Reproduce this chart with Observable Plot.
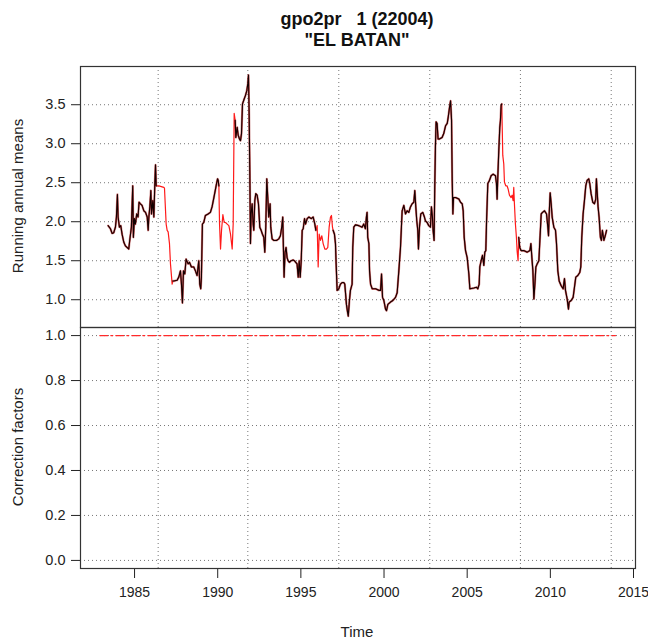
<!DOCTYPE html>
<html>
<head>
<meta charset="utf-8">
<script src="https://cdn.jsdelivr.net/npm/d3@7"></script>
<script src="https://cdn.jsdelivr.net/npm/@observablehq/plot@0.6"></script>
<style>
  html, body { margin: 0; padding: 0; background: #fff; }
  #chart { position: relative; width: 648px; height: 638px; font-family: "Liberation Sans", Arial, sans-serif; color: #222; }
  .abs { position: absolute; white-space: nowrap; }
  .title { font-weight: bold; font-size: 18px; line-height: 18px; color: #111; transform: translateX(-50%); }
  .ylab { font-size: 15px; line-height: 15px; transform: translate(-50%, -50%) rotate(-90deg); }
  .xlab { font-size: 15px; line-height: 15px; transform: translate(-50%, -50%); }
  svg { position: absolute; left: 0; overflow: visible; }
</style>
</head>
<body>
<div id="chart">
  <div class="abs title" style="left:357px; top:10px;">gpo2pr &nbsp;&nbsp;1 (22004)</div>
  <div class="abs title" style="left:357px; top:31px;">"EL BATAN"</div>
  <div class="abs ylab" style="left:17px; top:196px;">Running annual means</div>
  <div class="abs ylab" style="left:17px; top:447px;">Correction factors</div>
  <div class="abs xlab" style="left:357px; top:631px;">Time</div>
</div>
<script>
const years = [
1983.41,1983.55,1983.65,1983.75,1983.85,1983.91,1983.97,1984.01,1984.09,1984.17,
1984.25,1984.35,1984.45,1984.55,1984.65,1984.71,1984.81,1984.89,1984.93,1984.99,
1985.05,1985.13,1985.21,1985.27,1985.35,1985.45,1985.56,1985.66,1985.76,1985.82,
1985.86,1985.92,1985.98,1986.02,1986.10,1986.16,1986.22,1986.26,1986.30,1986.46,
1986.76,1986.80,1986.90,1986.96,1987.02,1987.10,1987.16,1987.26,1987.30,1987.36,
1987.56,1987.66,1987.76,1987.82,1987.88,1987.94,1988.02,1988.10,1988.22,1988.30,
1988.42,1988.56,1988.66,1988.76,1988.86,1988.92,1988.98,1989.02,1989.08,1989.16,
1989.26,1989.42,1989.56,1989.66,1989.77,1989.87,1989.93,1989.99,1990.03,1990.07,
1990.11,1990.17,1990.23,1990.31,1990.39,1990.47,1990.57,1990.67,1990.77,1990.87,
1990.93,1990.99,1991.05,1991.09,1991.17,1991.23,1991.31,1991.37,1991.43,1991.49,
1991.57,1991.67,1991.75,1991.81,1991.85,1991.89,1991.93,1991.97,1992.01,1992.07,
1992.13,1992.17,1992.23,1992.29,1992.37,1992.45,1992.53,1992.61,1992.69,1992.77,
1992.83,1992.89,1992.95,1993.01,1993.07,1993.15,1993.19,1993.27,1993.37,1993.53,
1993.67,1993.77,1993.85,1993.91,1993.95,1993.99,1994.05,1994.11,1994.17,1994.23,
1994.31,1994.41,1994.53,1994.61,1994.69,1994.77,1994.84,1994.90,1994.96,1995.02,
1995.08,1995.14,1995.22,1995.28,1995.38,1995.48,1995.62,1995.74,1995.84,1995.90,
1995.98,1996.04,1996.10,1996.18,1996.26,1996.34,1996.44,1996.54,1996.62,1996.70,
1996.78,1996.84,1996.90,1996.94,1997.02,1997.08,1997.12,1997.18,1997.28,1997.38,
1997.48,1997.58,1997.64,1997.68,1997.74,1997.80,1997.85,1997.92,1997.98,1998.08,
1998.12,1998.18,1998.28,1998.48,1998.68,1998.78,1998.88,1998.94,1998.98,1999.02,
1999.09,1999.13,1999.19,1999.29,1999.49,1999.69,1999.79,1999.85,1999.91,1999.99,
2000.09,2000.15,2000.23,2000.39,2000.53,2000.69,2000.79,2000.89,2000.99,2001.09,
2001.19,2001.29,2001.39,2001.49,2001.59,2001.69,2001.79,2001.85,2001.91,2001.97,
2002.03,2002.07,2002.13,2002.21,2002.33,2002.43,2002.49,2002.59,2002.69,2002.79,
2002.85,2002.91,2002.95,2003.01,2003.05,2003.09,2003.13,2003.19,2003.25,2003.33,
2003.49,2003.59,2003.70,2003.80,2003.86,2003.94,2004.00,2004.06,2004.10,2004.14,
2004.18,2004.30,2004.50,2004.60,2004.70,2004.76,2004.82,2004.90,2005.00,2005.10,
2005.16,2005.40,2005.56,2005.64,2005.72,2005.76,2005.84,2005.92,2006.00,2006.06,
2006.12,2006.16,2006.20,2006.24,2006.34,2006.44,2006.56,2006.70,2006.76,2006.80,
2006.84,2006.90,2006.96,2007.00,2007.04,2007.08,2007.14,2007.20,2007.24,2007.32,
2007.40,2007.46,2007.54,2007.64,2007.70,2007.76,2007.80,2007.84,2007.90,2007.96,
2008.00,2008.06,2008.10,2008.16,2008.24,2008.40,2008.61,2008.77,2008.83,2008.89,
2008.95,2009.01,2009.07,2009.13,2009.21,2009.31,2009.37,2009.45,2009.53,2009.65,
2009.77,2009.85,2009.89,2009.93,2009.99,2010.05,2010.11,2010.21,2010.31,2010.37,
2010.45,2010.53,2010.65,2010.77,2010.85,2010.91,2011.01,2011.09,2011.13,2011.25,
2011.37,2011.45,2011.53,2011.65,2011.77,2011.83,2011.89,2011.97,2012.05,2012.13,
2012.21,2012.31,2012.37,2012.45,2012.55,2012.65,2012.73,2012.77,2012.81,2012.87,
2012.93,2013.01,2013.07,2013.13,2013.22,2013.30,2013.38
];
const values = [
1.95,1.91,1.85,1.86,1.93,2.06,2.35,2.06,1.93,1.95,
1.84,1.74,1.69,1.67,1.65,1.76,1.93,2.46,1.80,2.04,
1.97,2.10,2.06,2.25,2.23,2.21,2.14,2.12,2.06,1.89,
2.06,2.19,2.40,2.10,2.27,2.06,2.49,2.73,2.46,2.46,
2.44,2.43,1.97,1.89,1.87,1.72,1.46,1.20,1.24,1.24,
1.25,1.29,1.37,1.20,0.96,1.37,1.33,1.52,1.46,1.48,
1.42,1.42,1.37,1.31,1.50,1.20,1.14,1.29,1.97,1.99,
2.08,2.10,2.12,2.19,2.31,2.42,2.49,2.55,2.53,2.46,
1.97,1.65,1.89,2.09,1.99,1.99,1.97,1.95,1.84,1.65,
1.97,3.39,3.30,3.08,3.21,3.11,3.06,3.04,3.13,3.51,
3.56,3.62,3.68,3.77,3.88,3.38,2.66,1.72,2.10,2.23,
1.97,1.89,2.27,2.36,2.34,2.23,1.93,1.89,1.84,1.80,
1.61,1.93,2.55,2.31,2.06,2.23,1.93,1.78,1.76,1.76,
1.78,1.82,1.93,2.06,1.67,1.29,1.61,1.67,1.54,1.50,
1.48,1.50,1.51,1.50,1.48,1.46,1.29,1.50,1.29,1.50,
1.89,1.91,2.04,1.97,2.04,2.06,2.04,2.06,1.97,1.89,
1.95,1.42,1.84,1.76,1.82,1.72,1.65,1.65,1.67,1.93,
2.06,2.08,1.93,1.89,1.84,1.72,1.46,1.12,1.14,1.20,
1.22,1.22,1.20,1.10,0.94,0.85,0.79,0.99,1.12,1.20,
1.67,1.93,1.96,1.95,1.93,1.97,1.91,2.06,2.12,1.80,
1.72,1.37,1.20,1.14,1.14,1.12,1.12,1.33,1.03,0.99,
0.88,0.86,0.94,0.97,0.99,1.03,1.09,1.37,1.67,2.14,
2.21,2.10,2.14,2.12,2.19,2.23,2.25,2.40,2.19,2.01,
1.89,1.65,1.93,2.10,2.12,2.06,2.01,1.99,1.95,1.93,
2.19,2.06,1.89,1.76,2.44,2.96,3.28,3.26,3.06,3.06,
3.08,3.13,3.23,3.26,3.34,3.47,3.55,3.30,2.53,2.10,
2.31,2.31,2.29,2.25,2.23,2.14,1.80,1.63,1.54,1.33,
1.14,1.15,1.16,1.14,1.20,1.42,1.50,1.57,1.44,1.61,
1.63,1.97,2.23,2.49,2.53,2.59,2.61,2.59,2.49,2.29,
2.57,2.91,3.21,3.30,3.49,3.51,2.85,2.74,2.51,2.46,
2.46,2.42,2.34,2.31,2.34,2.27,2.44,2.23,1.97,1.80,
1.63,1.50,1.80,1.67,1.63,1.63,1.61,1.63,1.72,1.54,
1.37,1.01,1.20,1.42,1.46,1.50,1.76,2.10,2.12,2.14,
2.10,1.93,1.82,2.10,2.37,2.23,2.06,1.93,1.89,1.72,
1.37,1.24,1.18,1.14,1.27,1.12,1.01,0.88,0.97,0.99,
1.03,1.16,1.29,1.31,1.35,1.42,1.80,2.10,2.27,2.46,
2.53,2.55,2.49,2.36,2.25,2.23,2.29,2.55,2.40,2.19,
2.06,1.80,1.76,1.89,1.76,1.82,1.89
];
// periods drawn only in red (black series absent)
const redStart = [1986.30, 1990.07, 1995.90, 2007.08];
const redEnd   = [1987.30, 1991.05, 1996.94, 2008.10];
// correction factors
const factorYears = [1982.91, 2013.92];
const factorValues = [1, 1];
// ticks and grid
const xTicks = [1985, 1990, 1995, 2000, 2005, 2010, 2015];
const gridYears = [1986.42, 1991.81, 1997.28, 2002.75, 2008.20, 2013.66];
const yTicksTop = [1.0, 1.5, 2.0, 2.5, 3.0, 3.5];
const yTicksBottom = [0.0, 0.2, 0.4, 0.6, 0.8, 1.0];

const series = years.map((t, i) => ({t, v: values[i]}));
const inRed = t => redStart.some((s, k) => t > s + 1e-9 && t < redEnd[k] - 1e-9);
const blackSeries = series.map(d => ({t: d.t, v: inRed(d.t) ? NaN : d.v}));
const factors = factorYears.map((t, i) => ({t, v: factorValues[i]}));

const xDomain = [1981.75, 2015.12];
const gridStyle = {stroke: "#777", strokeOpacity: 1, strokeDasharray: "1,3", strokeWidth: 1};
const plotStyle = {fontFamily: "'Liberation Sans', Arial, sans-serif", fontSize: "14px", color: "#222", background: "transparent", overflow: "visible"};
const fmt1 = d3.format(".1f");

const topPanel = Plot.plot({
  width: 648, height: 327,
  marginLeft: 80, marginRight: 13, marginTop: 66, marginBottom: 0,
  style: plotStyle,
  x: {domain: xDomain, axis: null},
  y: {domain: [0.644, 3.99]},
  marks: [
    Plot.gridY(yTicksTop, gridStyle),
    Plot.gridX(gridYears, gridStyle),
    Plot.line(series, {x: "t", y: "v", stroke: "#ff1a1a", strokeWidth: 1.2}),
    Plot.line(blackSeries, {x: "t", y: "v", stroke: "#a84040", strokeOpacity: 0.5, strokeWidth: 2.3}),
    Plot.line(blackSeries, {x: "t", y: "v", stroke: "#140000", strokeWidth: 1.1}),
    Plot.axisY(yTicksTop, {tickSize: 9, tickPadding: 6, fontSize: 14.5, tickFormat: fmt1, label: null}),
    Plot.frame({stroke: "#333", strokeWidth: 1.2})
  ]
});
topPanel.style.top = "0px";

const bottomPanel = Plot.plot({
  width: 648, height: 311,
  marginLeft: 80, marginRight: 13, marginTop: 0, marginBottom: 70,
  style: plotStyle,
  x: {domain: xDomain},
  y: {domain: [-0.036, 1.036]},
  marks: [
    Plot.gridY(yTicksBottom, gridStyle),
    Plot.gridX(gridYears, gridStyle),
    Plot.line(factors, {x: "t", y: "v", stroke: "#ff2a2a", strokeWidth: 1.2, strokeDasharray: "8,3,2,3"}),
    Plot.axisY(yTicksBottom, {tickSize: 9, tickPadding: 6, fontSize: 14.5, tickFormat: fmt1, label: null}),
    Plot.axisX(xTicks, {tickSize: 10, tickPadding: 9, fontSize: 14, tickFormat: d3.format("d"), label: null}),
    Plot.frame({stroke: "#333", strokeWidth: 1.2})
  ]
});
bottomPanel.style.top = "327px";

const chart = document.getElementById("chart");
chart.appendChild(topPanel);
chart.appendChild(bottomPanel);
</script>
</body>
</html>
